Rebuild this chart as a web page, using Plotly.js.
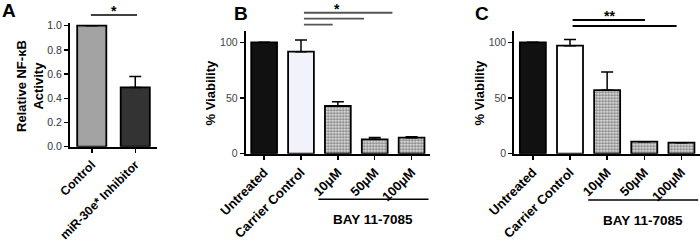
<!DOCTYPE html>
<html><head><meta charset="utf-8">
<script src="https://cdn.plot.ly/plotly-3.0.1.min.js"></script>
<style>html,body{margin:0;padding:0;background:#fff}#c{width:700px;height:245px}</style>
</head><body><div id="c"></div>
<script>
// Panel A data
const catsA = ['Control', 'miR-30e* Inhibitor'];
const valsA = [1.0, 0.49];
const errA  = [0, 0.09];
const colorsA = ['#a3a3a3', '#333333'];

// Panels B and C data
const catsBC = ['Untreated', 'Carrier Control', '10μM', '50μM', '100μM'];
const valsB = [100, 91.6, 42.8, 12.9, 14.4];
const errB  = [0, 10.4, 3.9, 1.6, 0.9];
const valsC = [100, 97, 57, 10.8, 9.9];
const errC  = [0, 5.6, 16.4, 0, 0];
const groupLabel = 'BAY 11-7085';

const F = 'Liberation Sans, Arial, Helvetica, sans-serif';
const AX = 'black';

function patternBars(vals, err, xa, ya, carrierFill) {
  const solidFills = ['#111111', carrierFill];
  const traces = [];
  traces.push({
    type: 'bar', x: catsBC.slice(0, 2), y: vals.slice(0, 2), xaxis: xa, yaxis: ya,
    width: 0.7,
    marker: {color: solidFills, line: {color: 'black', width: 1.8}},
    error_y: {type: 'data', symmetric: false, array: err.slice(0, 2), arrayminus: [0, 0], color: 'black', thickness: 1.5, width: 6},
    hoverinfo: 'skip', showlegend: false
  });
  traces.push({
    type: 'bar', x: catsBC.slice(2), y: vals.slice(2), xaxis: xa, yaxis: ya,
    width: 0.7,
    marker: {color: '#ffffff', line: {color: 'black', width: 1.8},
      pattern: {shape: '.', size: 3, solidity: 0.6, fgcolor: '#7a7a7a', bgcolor: '#ffffff'}},
    error_y: {type: 'data', symmetric: false, array: err.slice(2), arrayminus: [0, 0, 0], color: 'black', thickness: 1.5, width: 6},
    hoverinfo: 'skip', showlegend: false
  });
  return traces;
}

const data = [
  {
    type: 'bar', x: catsA, y: valsA, xaxis: 'x', yaxis: 'y', width: 0.67,
    marker: {color: colorsA, line: {color: 'black', width: 1.8}},
    error_y: {type: 'data', symmetric: false, array: errA, arrayminus: [0, 0], color: 'black', thickness: 1.5, width: 6},
    hoverinfo: 'skip', showlegend: false
  },
  ...patternBars(valsB, errB, 'x2', 'y2', '#f1f2fa'),
  ...patternBars(valsC, errC, 'x3', 'y3', '#ffffff')
];

const xCommon = {
  type: 'category', showline: true, linecolor: AX, linewidth: 2,
  ticks: 'outside', ticklen: 4, tickwidth: 1.5, tickcolor: AX,
  tickangle: -45, showgrid: false, zeroline: false,
  tickfont: {family: F, size: 13, color: 'black', weight: 'bold'}
};
const yCommon = {
  showline: true, linecolor: AX, linewidth: 2,
  ticks: 'outside', ticklen: 4, tickwidth: 1.5, tickcolor: AX,
  showgrid: false, zeroline: false,
  tickfont: {family: F, size: 10.5, color: '#444'}
};

const layout = {
  width: 700, height: 245,
  margin: {l: 0, r: 0, t: 0, b: 0},
  paper_bgcolor: 'white', plot_bgcolor: 'white',
  showlegend: false, bargap: 0.3,
  xaxis:  Object.assign({}, xCommon, {domain: [0.1, 0.2243], range: [-0.5, 1.5], anchor: 'y',
            tickfont: {family: F, size: 12.3, color: 'black', weight: 'bold'}}),
  yaxis:  Object.assign({}, yCommon, {domain: [0.4012, 0.9049], range: [0, 1.02], dtick: 0.2, tickformat: '.1f', anchor: 'x',
            tickfont: {family: F, size: 10.5, color: '#333'}}),
  xaxis2: Object.assign({}, xCommon, {domain: [0.351, 0.6143], range: [-0.5, 4.5], anchor: 'y2'}),
  yaxis2: Object.assign({}, yCommon, {domain: [0.3727, 0.8747], range: [0, 110.4], tickvals: [0, 50, 100], anchor: 'x2'}),
  xaxis3: Object.assign({}, xCommon, {domain: [0.7347, 1.0], range: [-0.5, 4.5], anchor: 'y3'}),
  yaxis3: Object.assign({}, yCommon, {domain: [0.3727, 0.8747], range: [0, 110.4], tickvals: [0, 50, 100], anchor: 'x3'}),
  shapes: [
    {type: 'line', xref: 'x', yref: 'y domain', x0: -0.02, x1: 1.04, y0: 1.067, y1: 1.067, line: {color: 'black', width: 1.5}},
    {type: 'line', xref: 'x2', yref: 'y2 domain', x0: 1.08, x1: 1.86, y0: 1.049, y1: 1.049, line: {color: '#555', width: 1.8}},
    {type: 'line', xref: 'x2', yref: 'y2 domain', x0: 1.08, x1: 2.71, y0: 1.098, y1: 1.098, line: {color: '#555', width: 1.8}},
    {type: 'line', xref: 'x2', yref: 'y2 domain', x0: 1.08, x1: 3.48, y0: 1.146, y1: 1.146, line: {color: '#555', width: 1.8}},
    {type: 'line', xref: 'x2', yref: 'y2 domain', x0: 1.47, x1: 4.46, y0: -0.371, y1: -0.371, line: {color: 'black', width: 1.5}},
    {type: 'line', xref: 'x3', yref: 'y3 domain', x0: 1.07, x1: 3.02, y0: 1.087, y1: 1.087, line: {color: 'black', width: 1.8}},
    {type: 'line', xref: 'x3', yref: 'y3 domain', x0: 1.07, x1: 3.87, y0: 1.038, y1: 1.038, line: {color: 'black', width: 1.8}},
    {type: 'line', xref: 'x3', yref: 'y3 domain', x0: 1.49, x1: 4.45, y0: -0.376, y1: -0.376, line: {color: 'black', width: 1.5}}
  ],
  annotations: [
    {text: 'A', xref: 'paper', yref: 'paper', x: 0.0, y: 1.0, xanchor: 'left', yanchor: 'top', showarrow: false, yshift: 2,
      font: {family: F, size: 19, color: 'black', weight: 'bold'}},
    {text: 'B', xref: 'paper', yref: 'paper', x: 232 / 700, y: 1.0, xanchor: 'left', yanchor: 'top', showarrow: false, yshift: -1,
      font: {family: F, size: 19, color: 'black', weight: 'bold'}},
    {text: 'C', xref: 'paper', yref: 'paper', x: 473 / 700, y: 1.0, xanchor: 'left', yanchor: 'top', showarrow: false, yshift: -1,
      font: {family: F, size: 19, color: 'black', weight: 'bold'}},
    {text: 'Relative NF-κB<br>Activity', xref: 'paper', yref: 'paper', x: 30 / 700, y: 1 - 86 / 245, textangle: -90,
      xanchor: 'center', yanchor: 'middle', showarrow: false,
      font: {family: F, size: 13, color: 'black', weight: 'bold'}},
    {text: '% Viability', xref: 'paper', yref: 'paper', x: 210 / 700, y: 1 - 92.5 / 245, textangle: -90,
      xanchor: 'center', yanchor: 'middle', showarrow: false,
      font: {family: F, size: 13, color: 'black', weight: 'bold'}},
    {text: '% Viability', xref: 'paper', yref: 'paper', x: 479 / 700, y: 1 - 92.5 / 245, textangle: -90,
      xanchor: 'center', yanchor: 'middle', showarrow: false,
      font: {family: F, size: 13, color: 'black', weight: 'bold'}},
    {text: '*', xref: 'x', yref: 'y domain', x: 0.51, y: 1.067, yanchor: 'bottom', showarrow: false, yshift: -6,
      font: {family: F, size: 14, color: 'black', weight: 'bold'}},
    {text: '*', xref: 'x2', yref: 'y2 domain', x: 1.97, y: 1.146, yanchor: 'bottom', showarrow: false, yshift: -6,
      font: {family: F, size: 14, color: 'black', weight: 'bold'}},
    {text: '**', xref: 'x3', yref: 'y3 domain', x: 2.05, y: 1.087, yanchor: 'bottom', showarrow: false, yshift: -6,
      font: {family: F, size: 14, color: 'black', weight: 'bold'}},
    {text: groupLabel, xref: 'x2', yref: 'y2 domain', x: 2.95, y: -0.539, yanchor: 'middle', showarrow: false,
      font: {family: F, size: 13.5, color: 'black', weight: 'bold'}},
    {text: groupLabel, xref: 'x3', yref: 'y3 domain', x: 2.97, y: -0.545, yanchor: 'middle', showarrow: false,
      font: {family: F, size: 13.5, color: 'black', weight: 'bold'}}
  ]
};

Plotly.newPlot('c', data, layout, {staticPlot: true, displayModeBar: false});
</script></body></html>
